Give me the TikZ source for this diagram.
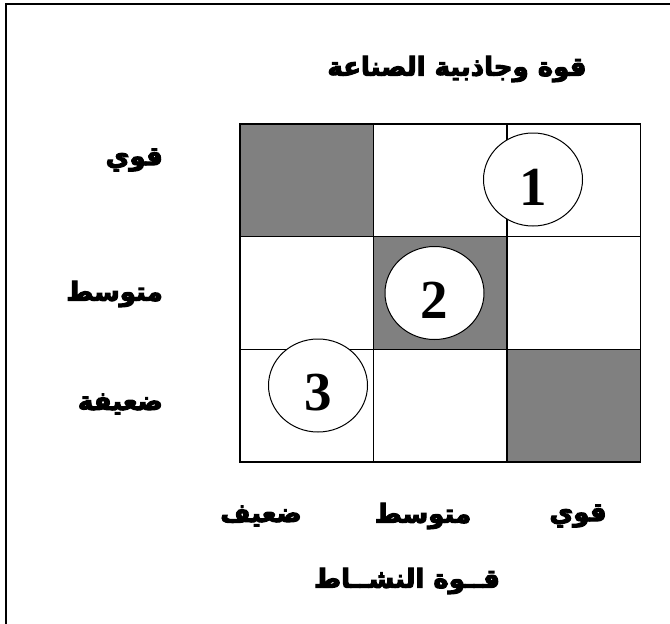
\documentclass[tikz,border=0pt]{standalone}
\usepackage{fontspec}
\usepackage{xcolor}
\usepackage{tikz}
\usetikzlibrary{shapes.geometric,positioning}
\TeXXeTstate=1
\newfontfamily\arabicfont[Script=Arabic,BoldFeatures={FakeBold=4}]{DejaVu Sans}
\setmainfont{Liberation Serif}
\definecolor{cellgray}{RGB}{128,128,128}

\begin{document}
\begin{tikzpicture}[x=1pt,y=-1pt,
    labeltext/.style={font=\arabicfont\bfseries\fontsize{26}{30}\selectfont, inner sep=0pt},
    ringnode/.style={ellipse, draw=black, line width=1pt, fill=white,
      minimum width=99pt, minimum height=93pt, inner sep=0pt,
      font=\bfseries\fontsize{55}{55}\selectfont, text height=51pt}]
  \useasboundingbox (0,0) rectangle (670,624);
  % Open frame: top and left edges only
  \draw[line width=2pt] (6,624) -- (6,4) -- (670,4);
  % Draw the 3x3 matrix
  \foreach \r/\vals in {0/{cellgray,white,white}, 1/{white,cellgray,white}, 2/{white,white,cellgray}}{
    \foreach [count=\c from 0] \v in \vals{
      \node[draw=black, line width=1.6pt, fill=\v, minimum width=133.5pt,
            minimum height=112.7pt, inner sep=0pt]
        (cell\r\c) at (306.75+\c*133.5, 180.3+\r*112.7) {};
    }
  }
  % Numbered rings
  \node[ringnode] (ring1) at (533,179.5) {1};
  \node[ringnode] (ring2) at (434.5,293) {2};
  \node[ringnode] (ring3) at (318,385.5) {3};
  % Labels
  \node[labeltext] (title) at (457,69) {\beginR قوة وجاذبية الصناعة\endR};
  \node[labeltext, anchor=east] (rowhigh) at (163,160) {\beginR قوي\endR};
  \node[labeltext, anchor=east] (rowmid) at (163,294) {\beginR متوسط\endR};
  \node[labeltext, anchor=east] (rowlow) at (163,404) {\beginR ضعيفة\endR};
  \node[labeltext] (colhigh) at (578,516) {\beginR قوي\endR};
  \node[labeltext] (colmid) at (423,516) {\beginR متوسط\endR};
  \node[labeltext] (collow) at (261,516) {\beginR ضعيف\endR};
  \node[labeltext] (axis) at (407,581) {\beginR قــوة النشــاط\endR};
\end{tikzpicture}
\end{document}
